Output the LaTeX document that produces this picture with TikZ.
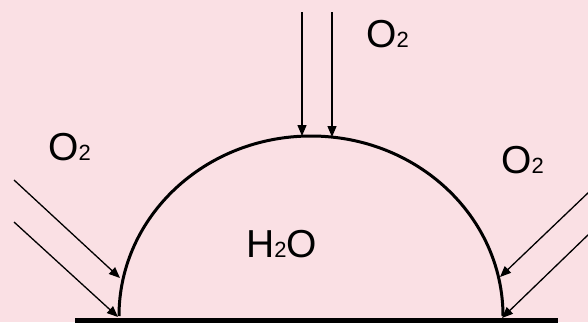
\documentclass[tikz,border=0pt]{standalone}
\usepackage{fontspec}
\setmainfont{Liberation Sans}
\usetikzlibrary{arrows.meta}
\definecolor{bgpink}{RGB}{250,224,228}
\newcommand{\chemsub}[1]{{\fontsize{22}{26}\selectfont #1}}
\begin{document}
\begin{tikzpicture}[x=1pt,y=-1pt,
  lbl/.style={inner sep=0pt,anchor=base west,font=\fontsize{39}{44}\selectfont},
  flow/.style={line width=1.3pt,-{Triangle[length=11pt,width=9pt]}},
  dome/.style={line width=3pt},
  ground/.style={line width=5pt}]
\fill[bgpink] (0,0) rectangle (588,322);
\useasboundingbox (0,0) rectangle (588,322);
% ground
\coordinate (gl) at (75,320);
\coordinate (gr) at (558,320);
\draw[ground] (gl) -- (gr);
% dome
\coordinate (dl) at (119,316);
\draw[dome] (dl) arc[start angle=180,end angle=360,x radius=192,y radius=180] coordinate (dr);
% top arrows
\coordinate (t1s) at (302,12); \coordinate (t1e) at (302,136);
\coordinate (t2s) at (332,12); \coordinate (t2e) at (332,137);
\draw[flow] (t1s) -- (t1e);
\draw[flow] (t2s) -- (t2e);
% left arrows
\coordinate (l1s) at (14,180); \coordinate (l1e) at (120,278);
\coordinate (l2s) at (14,222); \coordinate (l2e) at (118,317);
\draw[flow] (l1s) -- (l1e);
\draw[flow] (l2s) -- (l2e);
% right arrows
\coordinate (r1s) at (590,191); \coordinate (r1e) at (500,277);
\coordinate (r2s) at (590,233); \coordinate (r2e) at (502,318);
\draw[flow] (r1s) -- (r1e);
\draw[flow] (r2s) -- (r2e);
% labels
\node[lbl] (otop) at (366,47) {O\chemsub{2}};
\node[lbl] (oleft) at (48,160) {O\chemsub{2}};
\node[lbl] (oright) at (501,173) {O\chemsub{2}};
\node[lbl] (water) at (246,257) {H\chemsub{2}O};
\end{tikzpicture}
\end{document}
